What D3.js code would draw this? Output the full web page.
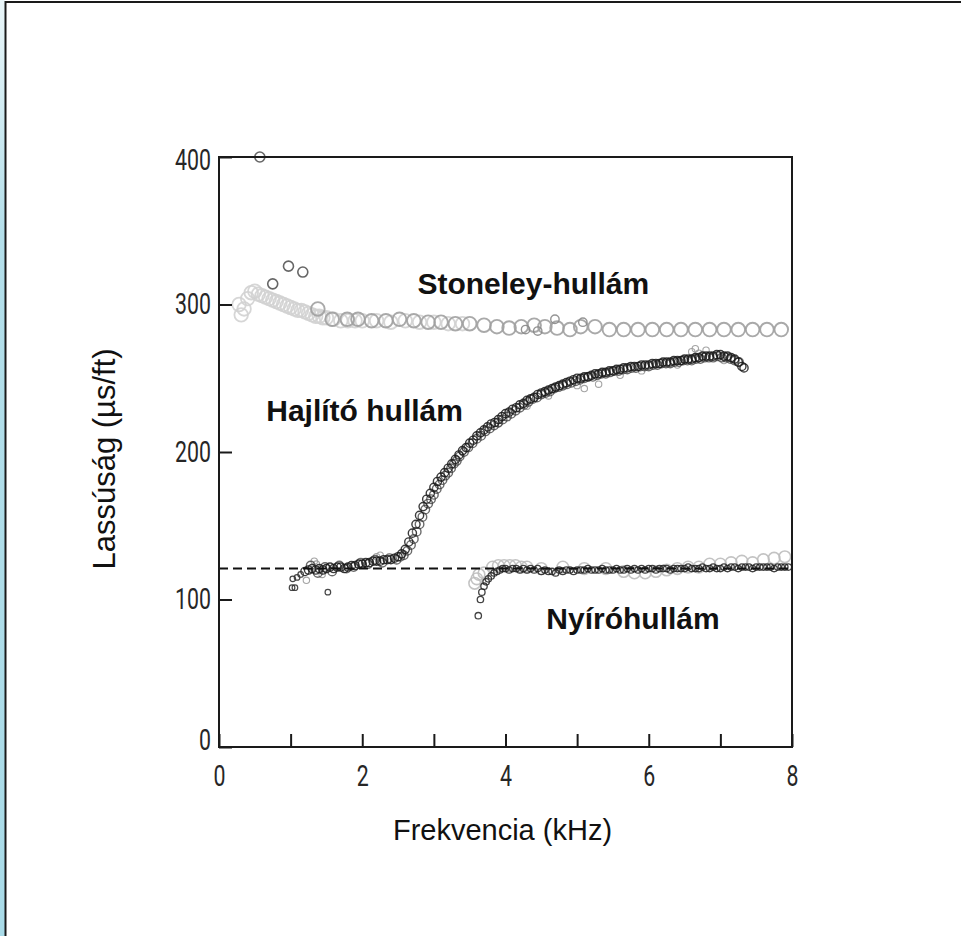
<!DOCTYPE html>
<html>
<head>
<meta charset="utf-8">
<script src="https://cdn.jsdelivr.net/npm/d3@7"></script>
<style>
  html, body { margin: 0; padding: 0; background: #fff; }
  svg { display: block; }
</style>
</head>
<body>
<svg id="chart" width="961" height="936"></svg>
<script>
// ---- Axis settings ----
const xTicks = [0, 1, 2, 3, 4, 5, 6, 7, 8];
const yTicks = [0, 100, 200, 300, 400];
const shearReference = 121; // µs/ft, dashed line

// ---- Stoneley wave (frequency kHz, slowness µs/ft) ----
const stoneleyLowFreq = [[0.28,300],[0.31,293],[0.35,297],[0.40,304],[0.45,308],[0.50,309],[0.55,307],[0.60,306],
  [0.65,305],[0.70,304],[0.75,303],[0.80,302],[0.85,301],[0.90,300],[0.95,299],[1.00,298],[1.05,297],[1.10,296],
  [1.15,296],[1.20,295],[1.25,294],[1.30,293],[1.35,292],[1.40,292],[1.45,291],[1.50,291],[1.60,290],[1.70,289],
  [1.80,289],[1.90,289],[2.00,289],[2.20,289],[2.40,288],[2.60,289],[2.80,288],[3.00,288],[3.20,287],[3.40,287]];
const stoneley = [[1.38,297],[1.58,290],[1.79,290],[1.94,290],[2.13,289],[2.33,289],[2.52,290],[2.72,289],
  [2.92,288],[3.10,288],[3.30,287],[3.50,287],[3.70,286],[3.88,285],[4.05,284],[4.22,285],[4.40,286],[4.55,285],
  [4.72,284],[4.90,283],[5.05,285],[5.25,285],[5.45,283],[5.65,283],[5.85,283],[6.05,283],[6.25,283],[6.45,283],
  [6.65,283],[6.85,283],[7.05,283],[7.25,283],[7.45,283],[7.65,283],[7.85,283]];
const stoneleySmall = [[4.69,290],[5.08,288],[4.28,283],[4.45,282]];
const stoneleyOutliers = [[0.57,400],[0.97,326],[1.17,322],[0.75,314]];

// ---- Flexural wave ----
const flexural = [[1.20,119],[1.25,120],[1.30,121],[1.35,120],[1.40,121],[1.45,120],[1.50,121],[1.55,122],[1.60,121],
  [1.65,122],[1.70,122],[1.75,121],[1.80,122],[1.85,123],[1.90,123],[1.95,124],[2.00,124],[2.05,125],[2.10,125],
  [2.15,126],[2.20,126],[2.25,126],[2.30,127],[2.35,127],[2.40,127],[2.45,128],[2.50,129],[2.55,131],[2.60,134],
  [2.65,139],[2.70,145],[2.75,151],[2.80,157],[2.85,163],[2.90,168],[2.95,172],[3.00,176],[3.05,180],[3.10,183],
  [3.15,186],[3.20,189],[3.25,192],[3.30,195],[3.35,198],[3.40,201],[3.45,203],[3.50,206],[3.55,208],[3.60,211],
  [3.65,213],[3.70,215],[3.75,217],[3.80,219],[3.85,220],[3.90,222],[3.95,224],[4.00,226],[4.05,227],[4.10,229],
  [4.15,230],[4.20,232],[4.25,233],[4.30,235],[4.35,236],[4.40,237],[4.45,239],[4.50,240],[4.55,241],[4.60,242],
  [4.65,243],[4.70,244],[4.75,245],[4.80,246],[4.85,247],[4.90,248],[4.95,249],[5.00,250],[5.05,250],[5.10,251],
  [5.15,251],[5.20,252],[5.25,253],[5.30,253],[5.35,254],[5.40,254],[5.45,255],[5.50,255],[5.55,256],[5.60,256],
  [5.65,257],[5.70,257],[5.75,258],[5.80,258],[5.85,258],[5.90,259],[5.95,259],[6.00,259],[6.05,260],[6.10,260],
  [6.15,260],[6.20,261],[6.25,261],[6.30,261],[6.35,262],[6.40,262],[6.45,262],[6.50,263],[6.55,263],[6.60,263],
  [6.65,264],[6.70,264],[6.75,265],[6.80,265],[6.85,265],[6.90,265],[6.95,266],[7.00,266],[7.05,265],[7.10,265],
  [7.15,264],[7.20,263],[7.25,261],[7.30,258],[7.33,257]];
const flexuralRepeat = [[1.28,123],[1.38,118],[1.48,122],[1.58,119],[1.68,123],[1.78,121],[1.88,122],[1.98,125],
  [2.08,124],[2.18,127],[2.28,125],[2.38,128],[2.48,127],[2.53,129],[2.58,130],[2.63,133],[2.68,137],[2.72,141],
  [2.76,146],[2.80,151],[2.84,156],[2.88,161],[2.92,165],[2.96,168],[3.00,171],[3.04,175],[3.08,178],[3.12,181],
  [3.16,184],[3.20,186],[3.24,189],[3.28,192],[3.32,194],[3.36,197],[3.42,200],[3.48,203],[3.54,206],[3.60,209],
  [3.66,211],[3.72,214],[3.78,216],[3.84,218],[3.90,220],[3.96,222],[4.02,224],[4.08,226],[4.14,228],[4.20,230],
  [4.26,232],[4.32,234],[4.38,236],[4.44,237],[4.50,239],[4.56,240],[4.62,241],[4.68,243],[4.74,244],[4.80,245],
  [4.86,246],[4.92,247],[4.98,248],[5.04,249],[5.10,250],[5.16,251],[5.22,251],[5.28,252],[5.34,253],[5.40,253],
  [5.46,254],[5.52,255],[5.58,255],[5.64,256],[5.70,256],[5.76,257],[5.82,257],[5.88,258],[5.94,258],[6.00,258],
  [6.06,259],[6.12,259],[6.18,260],[6.24,260],[6.30,260],[6.36,261],[6.42,261],[6.48,262],[6.54,262],[6.60,262],
  [6.66,263],[6.72,263],[6.78,264],[6.84,264],[6.90,264],[6.96,265],[7.02,264],[7.08,264],[7.14,263],[7.20,262],[7.26,261]];
const flexuralLowScatter = [[1.02,108],[1.06,108],[1.03,114],[1.09,115],[1.14,117],[1.52,105]];
const flexuralFaint = [[1.22,113],[1.33,126],[1.36,124],[1.44,117],[2.20,129],[2.25,130],[3.90,219],[4.30,231],
  [4.60,238],[5.00,245],[5.10,243],[5.30,246],[5.60,252],[5.90,255],[6.40,259],[6.60,268],[6.65,270],[6.70,267],
  [6.80,269],[7.05,262]];

// ---- Shear wave ----
const shear = [[3.62,89],[3.65,100],[3.67,105],[3.70,109],[3.73,112],[3.76,114],[3.80,116],[3.84,118],[3.88,119],
  [3.92,120],[3.96,121],[4.00,121],[4.05,120],[4.10,121],[4.15,121],[4.20,120],[4.25,121],[4.30,120],[4.35,121],
  [4.40,120],[4.45,121],[4.50,119],[4.55,120],[4.60,119],[4.65,119],[4.70,118],[4.75,120],[4.80,119],[4.85,120],
  [4.90,120],[4.95,119],[5.00,120],[5.05,120],[5.10,120],[5.15,121],[5.20,120],[5.25,120],[5.30,120],[5.35,121],
  [5.40,120],[5.45,120],[5.50,120],[5.55,121],[5.60,120],[5.65,120],[5.70,121],[5.75,120],[5.80,121],[5.85,120],
  [5.90,121],[5.95,120],[6.00,121],[6.05,121],[6.10,120],[6.15,121],[6.20,121],[6.25,121],[6.30,120],[6.35,121],
  [6.40,121],[6.45,121],[6.50,121],[6.55,122],[6.60,121],[6.65,121],[6.70,121],[6.75,122],[6.80,121],[6.85,121],
  [6.90,122],[6.95,121],[7.00,121],[7.05,122],[7.10,121],[7.15,122],[7.20,122],[7.25,121],[7.30,122],[7.35,122],
  [7.40,122],[7.45,121],[7.50,122],[7.55,122],[7.60,122],[7.65,122],[7.70,122],[7.75,121],[7.80,122],[7.85,122],
  [7.90,122],[7.95,122]];
const shearFaint = [[3.57,111],[3.60,114],[3.63,117],[3.70,118],[3.82,122],[3.90,123],[3.98,123],[4.06,123],
  [4.14,123],[4.22,122],[4.30,122],[4.50,121],[4.80,122],[5.10,121],[5.40,121],[5.65,119],[5.80,118],[5.95,118],
  [6.10,119],[6.25,120],[6.40,121],[6.55,122],[6.70,122],[6.85,124],[7.00,124],[7.15,125],[7.30,126],[7.45,125],
  [7.60,127],[7.75,128],[7.90,129]];

// ---- Text ----
const xTitle = "Frekvencia (kHz)";
const yTitle = "Lassúság (µs/ft)";
const waveLabels = [
  { text: "Stoneley-hullám", f: 2.77, v: 307 },
  { text: "Hajlító hullám", f: 0.66, v: 221 },
  { text: "Nyíróhullám", f: 4.57, v: 80 }
];

// ---- Layout ----
const svg = d3.select("#chart");
const W = 961, H = 936;
const plot = { left: 219, right: 792, top: 157, bottom: 747 };

const x = d3.scaleLinear().domain([0, 8]).range([plot.left, plot.right]);
const y = d3.scaleLinear().domain([0, 400]).range([plot.bottom, plot.top]);

// Page frame: light-blue strip on the left, thin dark rules on top and left
const defs = svg.append("defs");
const grad = defs.append("linearGradient").attr("id", "strip").attr("x1", 0).attr("y1", 0).attr("x2", 0).attr("y2", 1);
grad.append("stop").attr("offset", 0).attr("stop-color", "#eaf6f9");
grad.append("stop").attr("offset", 0.25).attr("stop-color", "#b4dfea");
grad.append("stop").attr("offset", 1).attr("stop-color", "#a9dbe8");
svg.append("rect").attr("x", 0).attr("y", 0).attr("width", 5).attr("height", H).attr("fill", "url(#strip)");
svg.append("line").attr("x1", 5).attr("x2", W).attr("y1", 2).attr("y2", 2).attr("stroke", "#1a1a1a").attr("stroke-width", 2);
svg.append("line").attr("x1", 5.5).attr("x2", 5.5).attr("y1", 1).attr("y2", H).attr("stroke", "#1a1a1a").attr("stroke-width", 2);

const clip = defs.append("clipPath").attr("id", "plotClip");
clip.append("rect").attr("x", plot.left).attr("y", plot.top - 8)
  .attr("width", plot.right - plot.left).attr("height", plot.bottom - plot.top + 8);

const marks = svg.append("g").attr("clip-path", "url(#plotClip)");

function scatter(data, r, stroke, width, opacity) {
  marks.append("g").selectAll("circle").data(data).join("circle")
    .attr("cx", d => x(d[0])).attr("cy", d => y(d[1])).attr("r", r)
    .attr("fill", "none").attr("stroke", stroke)
    .attr("stroke-width", width).attr("stroke-opacity", opacity);
}

// Stoneley branch
scatter(stoneleyLowFreq, 6.8, "#d2d2d2", 1.8, 0.9);
scatter(stoneley, 6.8, "#a0a0a0", 1.9, 0.9);
scatter(stoneleySmall, 4.2, "#888", 1.4, 0.9);
scatter(stoneleyOutliers, 5, "#555", 1.6, 0.9);

// Shear branch
scatter(shearFaint, 5.8, "#bdbdbd", 1.6, 0.9);
scatter(shear, 3.2, "#222", 1.3, 0.85);

// Flexural branch
scatter(flexuralFaint, 3.2, "#9a9a9a", 1.1, 0.9);
scatter(flexuralRepeat, 4.3, "#3a3a3a", 1.4, 0.75);
scatter(flexural, 4.1, "#1a1a1a", 1.4, 0.85);
scatter(flexuralLowScatter, 2.8, "#333", 1.2, 0.9);

// Dashed shear reference line
svg.append("line")
  .attr("x1", x(0)).attr("x2", x(8))
  .attr("y1", y(shearReference)).attr("y2", y(shearReference))
  .attr("stroke", "#111").attr("stroke-width", 2).attr("stroke-dasharray", "9,5");

// Axes (tick numerals drawn in a narrow, tall style)
const tickFont = "Roboto, 'Liberation Sans', sans-serif";
const narrow = "scale(0.82,1.1)";
const xAxis = svg.append("g").attr("transform", `translate(0,${plot.bottom})`)
  .call(d3.axisBottom(x).tickValues(xTicks).tickSize(-13)
    .tickFormat(d => d % 2 === 0 ? d : ""));
const yAxis = svg.append("g").attr("transform", `translate(${plot.left},0)`)
  .call(d3.axisLeft(y).tickValues(yTicks).tickSize(-13));
[xAxis, yAxis].forEach(g => {
  g.select(".domain").remove();
  g.selectAll(".tick line").attr("stroke", "#1a1a1a").attr("stroke-width", 2);
  g.selectAll(".tick text").attr("fill", "#262626")
    .style("font-family", tickFont).style("font-weight", 400).style("font-size", "26px");
});
xAxis.selectAll(".tick text").attr("y", null).attr("transform", `translate(0,19) ${narrow}`);
yAxis.selectAll(".tick text").attr("x", null).attr("transform", `translate(-8,0) ${narrow}`);
yAxis.selectAll(".tick text").filter(d => d === 0).attr("dy", "0.1em");
yAxis.selectAll(".tick text").filter(d => d === 400).attr("dy", "0.42em");

// Plot frame
svg.append("rect")
  .attr("x", plot.left).attr("y", plot.top)
  .attr("width", plot.right - plot.left).attr("height", plot.bottom - plot.top)
  .attr("fill", "none").attr("stroke", "#1a1a1a").attr("stroke-width", 2);

// Axis titles
const titleFont = "'Liberation Sans', Arial, sans-serif";
svg.append("text").text(xTitle)
  .attr("x", (plot.left + plot.right) / 2 - 3).attr("y", 840)
  .attr("text-anchor", "middle").attr("fill", "#111")
  .style("font-family", titleFont).style("font-size", "29px");
svg.append("text").text(yTitle)
  .attr("transform", `translate(115,${(plot.top + plot.bottom) / 2 + 7}) rotate(-90)`)
  .attr("text-anchor", "middle").attr("fill", "#111")
  .style("font-family", titleFont).style("font-size", "31px");

// Branch labels
svg.append("g").selectAll("text").data(waveLabels).join("text")
  .text(d => d.text)
  .attr("x", d => x(d.f)).attr("y", d => y(d.v))
  .attr("fill", "#111")
  .style("font-family", titleFont).style("font-size", "30px").style("font-weight", "bold");
</script>
</body>
</html>
